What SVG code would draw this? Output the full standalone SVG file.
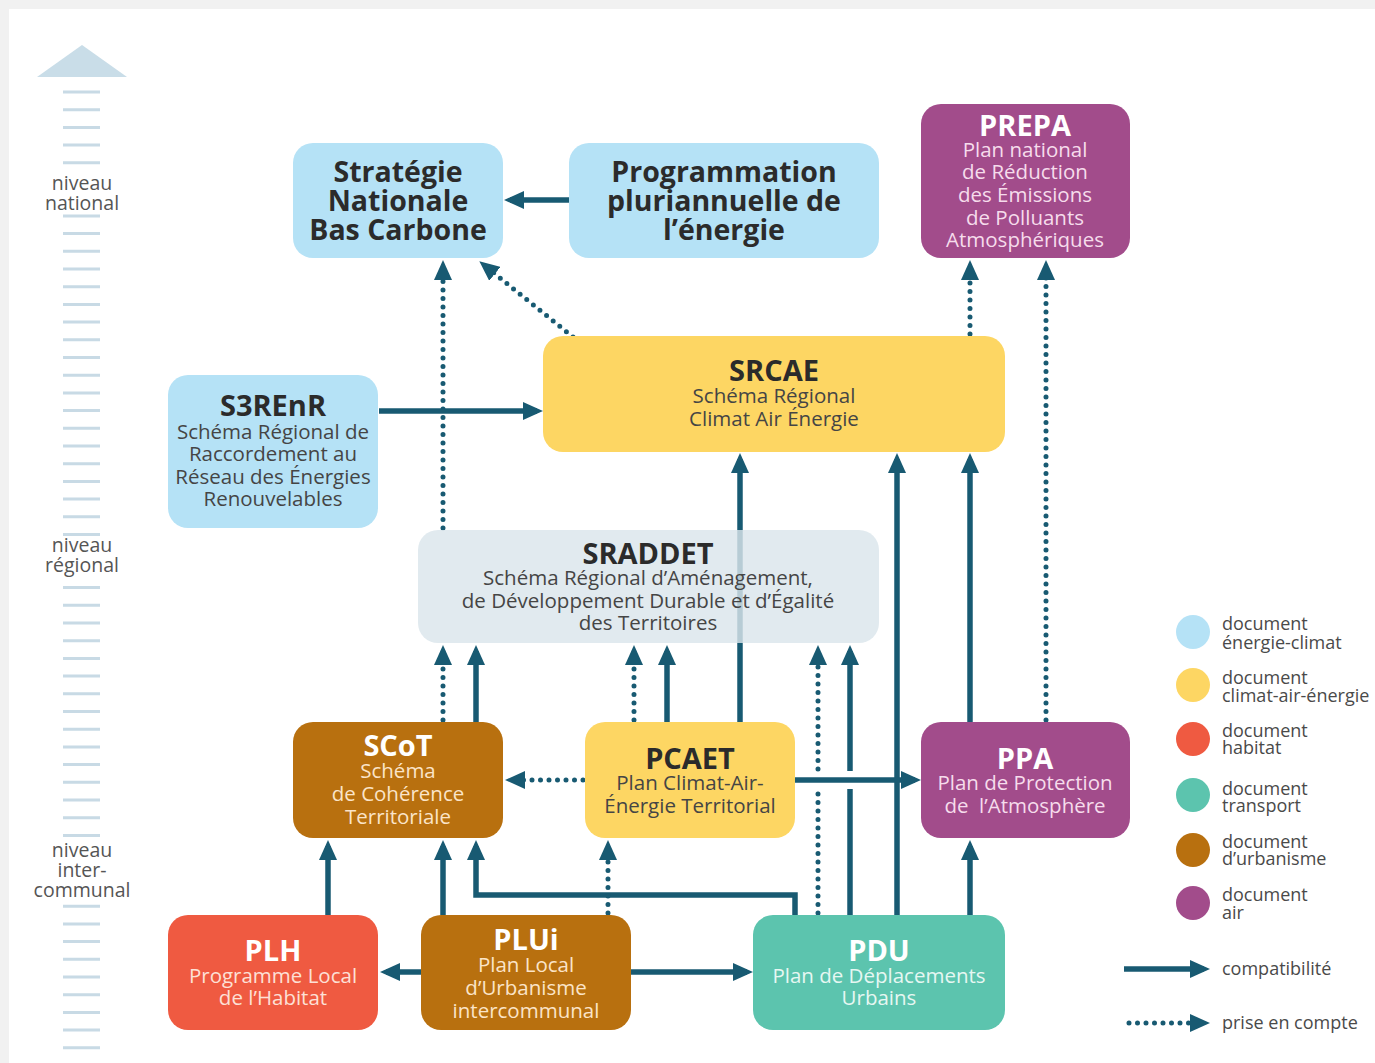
<svg xmlns="http://www.w3.org/2000/svg" width="1375" height="1063" viewBox="0 0 1375 1063">
<style>
text{font-family:"Open Sans","Noto Sans","DejaVu Sans",sans-serif;text-anchor:middle}
.t{font-weight:700;font-size:29px}
.big{font-weight:700;font-size:28.5px;fill:#2b2b2b}
.s{font-size:20.5px}
.dk{fill:#2b2b2b}
.sd{fill:#454545}
.w{fill:#ffffff}
.lvl{font-size:19.5px;fill:#555}
.lg{font-size:18px;fill:#4a4a4a;text-anchor:start}
.c{fill:none;stroke:#185a72;stroke-width:5.5}
.d{fill:none;stroke:#185a72;stroke-width:5;stroke-linecap:round;stroke-dasharray:0 8.5}
.a{marker-end:url(#ah)}
</style>
<defs>
<marker id="ah" markerUnits="userSpaceOnUse" viewBox="0 0 20 18" markerWidth="20" markerHeight="18" refX="14" refY="9" orient="auto">
<path d="M0,0 L20,9 L0,18 z" fill="#185a72"/>
</marker>
</defs>
<rect x="0" y="0" width="1375" height="1063" fill="#f1f1f1"/>
<rect x="9" y="9" width="1366" height="1054" fill="#ffffff"/>

<g id="scale">
<path d="M82,45 L127,77 L37,77 z" fill="#c9dde8"/>
<path d="M63,92H100M63,109.7H100M63,127.4H100M63,145.1H100M63,162.8H100M63,215.9H100M63,233.6H100M63,251.3H100M63,269H100M63,286.7H100M63,304.4H100M63,322.1H100M63,339.8H100M63,357.5H100M63,375.2H100M63,392.9H100M63,410.6H100M63,428.3H100M63,446H100M63,463.7H100M63,481.4H100M63,499.1H100M63,516.8H100M63,534.5H100M63,587.6H100M63,605.3H100M63,623H100M63,640.7H100M63,658.4H100M63,676.1H100M63,693.8H100M63,711.5H100M63,729.2H100M63,746.9H100M63,764.6H100M63,782.3H100M63,800H100M63,817.7H100M63,835.4H100M63,906.2H100M63,923.9H100M63,941.6H100M63,959.3H100M63,977H100M63,994.7H100M63,1012.4H100M63,1030.1H100M63,1047.8H100" stroke="#c8dae5" stroke-width="3" fill="none"/>
<text class="lvl"><tspan x="82" y="190">niveau</tspan><tspan x="82" y="210">national</tspan></text>
<text class="lvl"><tspan x="82" y="552">niveau</tspan><tspan x="82" y="572">régional</tspan></text>
<text class="lvl"><tspan x="82" y="857">niveau</tspan><tspan x="82" y="877">inter-</tspan><tspan x="82" y="897">communal</tspan></text>
</g>

<g id="connectors">
<path class="c a" d="M569,200 L510,200"/>
<path class="d a" d="M573,337 L484,265"/>
<path class="d a" d="M443,528 L443,266"/>
<path class="c a" d="M379,411 L537,411"/>
<path class="d a" d="M970,334 L970,266"/>
<path class="d a" d="M1046,720 L1046,266"/>
<path class="c a" d="M740,722 L740,459"/>
<path class="c a" d="M897,915 L897,459"/>
<path class="c a" d="M970,722 L970,459"/>
<path class="d a" d="M443,720 L443,651"/>
<path class="c a" d="M476,722 L476,651"/>
<path class="d a" d="M634,720 L634,651"/>
<path class="c a" d="M667,722 L667,651"/>
<path class="d" d="M818,913 L818,791"/>
<path class="d a" d="M818,769 L818,651"/>
<path class="c" d="M850,915 L850,789"/>
<path class="c a" d="M850,771 L850,651"/>
<path class="d a" d="M583,780 L511,780"/>
<path class="c a" d="M795,780 L915,780"/>
<path class="c a" d="M328,915 L328,846"/>
<path class="c a" d="M443,915 L443,846"/>
<path class="c a" d="M795,915 V895 H476 V846"/>
<path class="d a" d="M608,913 L608,846"/>
<path class="c a" d="M421,972 L386,972"/>
<path class="c a" d="M631,972 L747,972"/>
<path class="c a" d="M970,915 L970,846"/>
</g>

<g id="node-snbc">
<rect x="293" y="143" width="210" height="115" rx="20" fill="#b5e2f6"/>
<text class="big"><tspan x="398" y="182">Stratégie</tspan><tspan x="398" y="211">Nationale</tspan><tspan x="398" y="240">Bas Carbone</tspan></text>
</g>
<g id="node-ppe">
<rect x="569" y="143" width="310" height="115" rx="20" fill="#b5e2f6"/>
<text class="big"><tspan x="724" y="182">Programmation</tspan><tspan x="724" y="211">pluriannuelle de</tspan><tspan x="724" y="240">l’énergie</tspan></text>
</g>
<g id="node-prepa">
<rect x="921" y="104" width="209" height="154" rx="20" fill="#a24c8b"/>
<text class="t w" x="1025" y="136">PREPA</text>
<text class="s" fill="#f6dcec"><tspan x="1025" y="157">Plan national</tspan><tspan x="1025" y="179">de Réduction</tspan><tspan x="1025" y="202">des Émissions</tspan><tspan x="1025" y="225">de Polluants</tspan><tspan x="1025" y="247">Atmosphériques</tspan></text>
</g>
<g id="node-srcae">
<rect x="543" y="336" width="462" height="116" rx="20" fill="#fdd663"/>
<text class="t dk" x="774" y="381">SRCAE</text>
<text class="s sd"><tspan x="774" y="403">Schéma Régional</tspan><tspan x="774" y="426">Climat Air Énergie</tspan></text>
</g>
<g id="node-s3renr">
<rect x="168" y="375" width="210" height="153" rx="20" fill="#b5e2f6"/>
<text class="t dk" x="273" y="416">S3REnR</text>
<text class="s sd"><tspan x="273" y="439">Schéma Régional de</tspan><tspan x="273" y="461">Raccordement au</tspan><tspan x="273" y="484">Réseau des Énergies</tspan><tspan x="273" y="506">Renouvelables</tspan></text>
</g>
<g id="node-sraddet">
<rect x="418" y="530" width="461" height="113" rx="20" fill="#dbe5ec" fill-opacity="0.82"/>
<text class="t dk" x="648" y="564">SRADDET</text>
<text class="s sd"><tspan x="648" y="585">Schéma Régional d’Aménagement,</tspan><tspan x="648" y="608">de Développement Durable et d’Égalité</tspan><tspan x="648" y="630">des Territoires</tspan></text>
</g>
<g id="node-scot">
<rect x="293" y="722" width="210" height="116" rx="20" fill="#b8700f"/>
<text class="t w" x="398" y="756">SCoT</text>
<text class="s" fill="#fbe4c8"><tspan x="398" y="778">Schéma</tspan><tspan x="398" y="801">de Cohérence</tspan><tspan x="398" y="824">Territoriale</tspan></text>
</g>
<g id="node-pcaet">
<rect x="585" y="722" width="210" height="116" rx="20" fill="#fdd663"/>
<text class="t dk" x="690" y="769">PCAET</text>
<text class="s sd"><tspan x="690" y="790">Plan Climat-Air-</tspan><tspan x="690" y="813">Énergie Territorial</tspan></text>
</g>
<g id="node-ppa">
<rect x="921" y="722" width="209" height="116" rx="20" fill="#a24c8b"/>
<text class="t w" x="1025" y="769">PPA</text>
<text class="s" fill="#f6dcec" xml:space="preserve"><tspan x="1025" y="790">Plan de Protection</tspan><tspan x="1025" y="813">de  l’Atmosphère</tspan></text>
</g>
<g id="node-plh">
<rect x="168" y="915" width="210" height="115" rx="20" fill="#ef5a41"/>
<text class="t w" x="273" y="961">PLH</text>
<text class="s" fill="#fde0d6"><tspan x="273" y="983">Programme Local</tspan><tspan x="273" y="1005">de l’Habitat</tspan></text>
</g>
<g id="node-plui">
<rect x="421" y="915" width="210" height="115" rx="20" fill="#b8700f"/>
<text class="t w" x="526" y="950">PLUi</text>
<text class="s" fill="#fbe4c8"><tspan x="526" y="972">Plan Local</tspan><tspan x="526" y="995">d’Urbanisme</tspan><tspan x="526" y="1018">intercommunal</tspan></text>
</g>
<g id="node-pdu">
<rect x="753" y="915" width="252" height="115" rx="20" fill="#5cc4ae"/>
<text class="t w" x="879" y="961">PDU</text>
<text class="s" fill="#e6f7f2"><tspan x="879" y="983">Plan de Déplacements</tspan><tspan x="879" y="1005">Urbains</tspan></text>
</g>

<g id="legend">
<circle cx="1193" cy="632" r="17" fill="#b5e2f6"/>
<circle cx="1193" cy="685" r="17" fill="#fdd663"/>
<circle cx="1193" cy="739" r="17" fill="#ef5a41"/>
<circle cx="1193" cy="795" r="17" fill="#5cc4ae"/>
<circle cx="1193" cy="850" r="17" fill="#b8700f"/>
<circle cx="1193" cy="903" r="17" fill="#a24c8b"/>
<text class="lg"><tspan x="1222" y="630">document</tspan><tspan x="1222" y="649">énergie-climat</tspan></text>
<text class="lg"><tspan x="1222" y="684">document</tspan><tspan x="1222" y="702">climat-air-énergie</tspan></text>
<text class="lg"><tspan x="1222" y="737">document</tspan><tspan x="1222" y="754">habitat</tspan></text>
<text class="lg"><tspan x="1222" y="795">document</tspan><tspan x="1222" y="812">transport</tspan></text>
<text class="lg"><tspan x="1222" y="848">document</tspan><tspan x="1222" y="865">d’urbanisme</tspan></text>
<text class="lg"><tspan x="1222" y="901">document</tspan><tspan x="1222" y="919">air</tspan></text>
<path class="c a" d="M1124,969 L1204,969"/>
<path class="d a" d="M1129,1023 L1204,1023"/>
<text class="lg" x="1222" y="975">compatibilité</text>
<text class="lg" x="1222" y="1029">prise en compte</text>
</g>
</svg>
